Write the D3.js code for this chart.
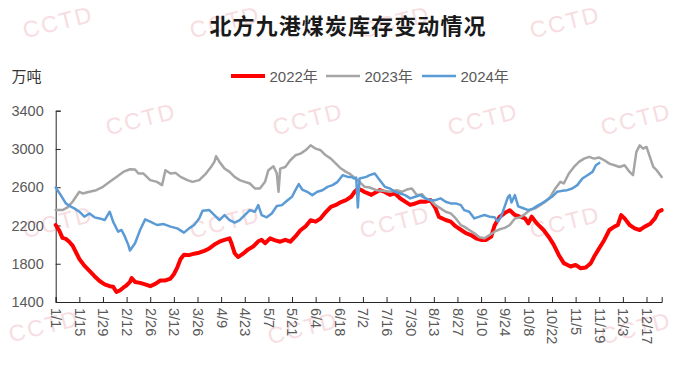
<!DOCTYPE html>
<html>
<head>
<meta charset="utf-8">
<script src="https://cdn.jsdelivr.net/npm/d3@7"></script>
<style>
  html, body { margin: 0; padding: 0; background: #ffffff; }
  svg { display: block; }
  text { font-family: "Liberation Sans", "Noto Sans CJK SC", sans-serif; }
</style>
</head>
<body>
<svg id="chart" width="676" height="370"></svg>
<script>
// ---------- data ----------
const title = "北方九港煤炭库存变动情况";
const unitLabel = "万吨";
const seriesNames = ["2022年", "2023年", "2024年"];
const seriesColors = ["#ff0000", "#a5a5a5", "#5b9bd5"];
const tickLabels = ["1/1","1/15","1/29","2/12","2/26","3/12","3/26","4/9","4/23","5/7","5/21","6/4","6/18",
  "7/2","7/16","7/30","8/13","8/27","9/10","9/24","10/8","10/22","11/5","11/19","12/3","12/17"];
const yTicks = [1400, 1800, 2200, 2600, 3000, 3400];

// [day of year (0 = 1/1), value]
const s2022 = [[0,2205],[2,2150],[4,2070],[6,2060],[8,2030],[10,1990],[12,1920],[14,1850],[17,1780],[20,1725],
  [23,1670],[26,1620],[29,1585],[32,1565],[34,1560],[36,1505],[38,1520],[40,1550],[42,1575],[44,1610],[45,1650],
  [47,1610],[50,1600],[53,1585],[56,1565],[59,1590],[62,1625],[65,1625],[68,1645],[70,1690],[72,1760],[74,1850],
  [76,1895],[79,1890],[82,1905],[85,1915],[88,1935],[91,1960],[94,2000],[97,2030],[100,2050],[103,2065],[104,2020],
  [106,1910],[108,1870],[111,1905],[114,1950],[117,1980],[120,2035],[122,2050],[124,2015],[127,2065],[130,2045],
  [133,2030],[136,2050],[139,2030],[142,2085],[145,2150],[148,2190],[151,2255],[154,2240],[157,2275],[160,2340],
  [163,2395],[166,2415],[169,2445],[172,2465],[175,2500],[177,2550],[179,2585],[181,2570],[183,2550],[185,2535],
  [187,2520],[190,2550],[192,2570],[195,2550],[198,2520],[201,2535],[204,2485],[207,2450],[210,2415],[213,2430],
  [216,2450],[219,2448],[222,2465],[225,2380],[227,2290],[231,2257],[234,2240],[237,2190],[240,2155],[243,2120],
  [246,2100],[249,2066],[252,2049],[255,2049],[258,2083],[260,2200],[263,2290],[266,2330],[269,2360],[272,2310],
  [275,2292],[278,2274],[280,2222],[282,2292],[285,2222],[289,2153],[292,2083],[295,2000],[298,1892],[301,1806],
  [305,1771],[308,1788],[311,1753],[314,1760],[317,1806],[319,1875],[322,1962],[325,2049],[328,2153],[331,2188],
  [333,2205],[335,2309],[337,2274],[340,2205],[343,2170],[346,2153],[349,2188],[352,2215],[355,2274],[357,2344],[359,2361]];

const s2023 = [[0,2361],[4,2361],[7,2389],[10,2448],[14,2552],[16,2535],[20,2552],[24,2569],[28,2604],[32,2656],
  [36,2708],[40,2760],[44,2788],[47,2785],[49,2743],[52,2743],[56,2674],[60,2656],[63,2622],[65,2778],[68,2743],
  [71,2750],[74,2708],[78,2674],[81,2656],[85,2674],[89,2743],[92,2812],[94,2865],[95,2924],[97,2865],[100,2795],
  [103,2760],[106,2708],[109,2674],[112,2656],[115,2639],[118,2587],[121,2587],[124,2656],[126,2778],[129,2819],
  [131,2743],[132,2552],[133,2795],[136,2812],[139,2882],[142,2934],[145,2951],[148,2986],[151,3038],[154,3003],
  [157,2986],[160,2934],[163,2899],[166,2847],[169,2795],[172,2760],[174,2743],[177,2700],[180,2656],[183,2604],
  [186,2597],[190,2569],[194,2562],[198,2552],[202,2569],[205,2552],[208,2576],[211,2587],[214,2517],[217,2528],
  [219,2483],[222,2465],[225,2413],[228,2379],[231,2344],[234,2326],[237,2274],[240,2205],[242,2188],[245,2153],
  [248,2118],[251,2076],[254,2066],[257,2101],[260,2135],[263,2160],[266,2175],[269,2205],[272,2274],[275,2285],
  [278,2319],[281,2361],[284,2379],[287,2413],[290,2448],[293,2500],[296,2587],[299,2656],[301,2639],[304,2743],
  [307,2812],[310,2865],[313,2899],[316,2917],[319,2899],[322,2910],[325,2882],[328,2847],[331,2830],[334,2812],
  [337,2830],[340,2760],[342,2726],[344,2969],[346,3038],[348,3003],[350,3021],[352,2917],[354,2812],[356,2778],[359,2708]];

const s2024 = [[0,2597],[3,2517],[6,2431],[9,2396],[11,2379],[14,2344],[17,2292],[20,2326],[23,2285],[26,2274],
  [29,2257],[32,2344],[34,2240],[37,2135],[39,2153],[41,2083],[43,1997],[44,1938],[47,2014],[50,2153],[53,2264],
  [56,2240],[60,2205],[64,2215],[68,2188],[72,2170],[76,2125],[79,2170],[82,2205],[85,2274],[87,2354],[91,2361],
  [94,2309],[97,2257],[100,2309],[103,2257],[106,2229],[109,2257],[112,2309],[115,2361],[118,2344],[120,2413],
  [122,2309],[125,2285],[128,2326],[131,2403],[134,2413],[137,2458],[140,2500],[142,2569],[144,2632],[146,2576],
  [149,2552],[152,2517],[155,2552],[158,2569],[161,2604],[164,2622],[167,2656],[170,2726],[173,2708],[175,2708],
  [177,2691],[178,2700],[179,2389],[180,2691],[184,2708],[186,2726],[189,2743],[192,2674],[195,2604],[198,2587],
  [201,2552],[204,2535],[207,2517],[210,2483],[213,2500],[216,2517],[219,2483],[222,2465],[225,2465],[228,2483],
  [231,2448],[234,2431],[237,2431],[240,2413],[242,2361],[245,2344],[248,2274],[251,2292],[254,2309],[257,2292],
  [260,2285],[262,2240],[264,2300],[266,2400],[268,2500],[269,2517],[270,2440],[272,2517],[274,2400],[277,2380],
  [280,2361],[283,2379],[286,2413],[288,2431],[291,2465],[294,2500],[297,2552],[300,2562],[303,2569],[306,2587],
  [309,2622],[312,2691],[315,2726],[318,2760],[320,2830],[322,2854]];

const seriesData = [s2022, s2023, s2024];
const seriesWidths = [4, 2.5, 2.5];

// ---------- layout ----------
const svg = d3.select("#chart");
const x0 = 55.7, x1 = 661.7, yBottom = 302, yTop = 110.7;

const yearStart = new Date(2023, 0, 1);
const parseMD = d3.timeParse("%Y/%m/%d");
const tickDays = tickLabels.map(l => d3.timeDay.count(yearStart, parseMD("2023/" + l)));

const x = d3.scaleLinear().domain([0, 359]).range([x0, x1]);
const y = d3.scaleLinear().domain([1400, 3400]).range([yBottom, yTop]);

// ---------- watermark ----------
const wmPos = [[58,22],[225,22],[395,22],[565,22],
               [141,119],[308,119],[483,119],[636,119],
               [58,222],[225,222],[395,222],[565,222],
               [44,326],[303,328],[636,328]];
const wm = svg.append("g");
wm.selectAll("text").data(wmPos).enter().append("text")
  .attr("transform", d => `translate(${d[0]},${d[1]}) rotate(-14)`)
  .attr("text-anchor", "middle").attr("dy", "0.35em")
  .style("font-size", "23px").style("letter-spacing", "2px")
  .style("fill", "#f7dde1")
  .text("CCTD");

// ---------- title ----------
svg.append("text").attr("x", 348).attr("y", 34).attr("text-anchor", "middle")
  .style("font-family", "'Noto Sans CJK SC', sans-serif")
  .style("font-size", "22px").style("font-weight", "bold").style("letter-spacing", "1.1px")
  .style("fill", "#1a1a1a").text(title);

svg.append("text").attr("x", 11.5).attr("y", 82)
  .style("font-family", "'Noto Sans CJK SC', sans-serif")
  .style("font-size", "15px").style("fill", "#333333").text(unitLabel);

// ---------- legend ----------
const legendX = [231, 326, 422];
const leg = svg.append("g");
seriesNames.forEach((name, i) => {
  leg.append("line").attr("x1", legendX[i]).attr("x2", legendX[i] + 34)
    .attr("y1", 76).attr("y2", 76)
    .attr("stroke", seriesColors[i]).attr("stroke-width", seriesWidths[i] === 4 ? 4 : 2.5);
  leg.append("text").attr("x", legendX[i] + 38.5).attr("y", 82)
    .style("font-size", "15px").style("fill", "#595959").text(name);
});

// ---------- axes ----------
const yAxis = d3.axisLeft(y).tickValues(yTicks).tickSize(-5).tickPadding(12).tickFormat(d3.format("d"));
const gy = svg.append("g").attr("transform", `translate(${x0},0)`).call(yAxis);
gy.select(".domain").attr("stroke", "#262626");
gy.selectAll(".tick line").attr("stroke", "#262626");
gy.selectAll(".tick text").style("font-size", "14.5px").style("fill", "#595959")
  .style("font-family", "'Liberation Sans', sans-serif");

const xAxis = d3.axisBottom(x).tickValues(tickDays).tickSize(-5).tickFormat((d, i) => tickLabels[i]);
const gx = svg.append("g").attr("transform", `translate(0,${yBottom})`).call(xAxis);
gx.select(".domain").attr("stroke", "#262626");
gx.selectAll(".tick line").attr("stroke", "#262626");
gx.selectAll(".tick text")
  .attr("transform", "rotate(90)")
  .attr("text-anchor", "start")
  .attr("x", 6).attr("y", 0).attr("dy", "0.35em")
  .style("font-size", "14.5px").style("fill", "#595959")
  .style("font-family", "'Liberation Sans', sans-serif");

// ---------- lines ----------
const line = d3.line().x(d => x(d[0])).y(d => y(d[1])).curve(d3.curveLinear);
const lg = svg.append("g");
seriesData.forEach((s, i) => {
  lg.append("path").datum(s).attr("d", line)
    .attr("fill", "none").attr("stroke", seriesColors[i])
    .attr("stroke-width", seriesWidths[i]).attr("stroke-linejoin", "round").attr("stroke-linecap", "round");
});
</script>
</body>
</html>
